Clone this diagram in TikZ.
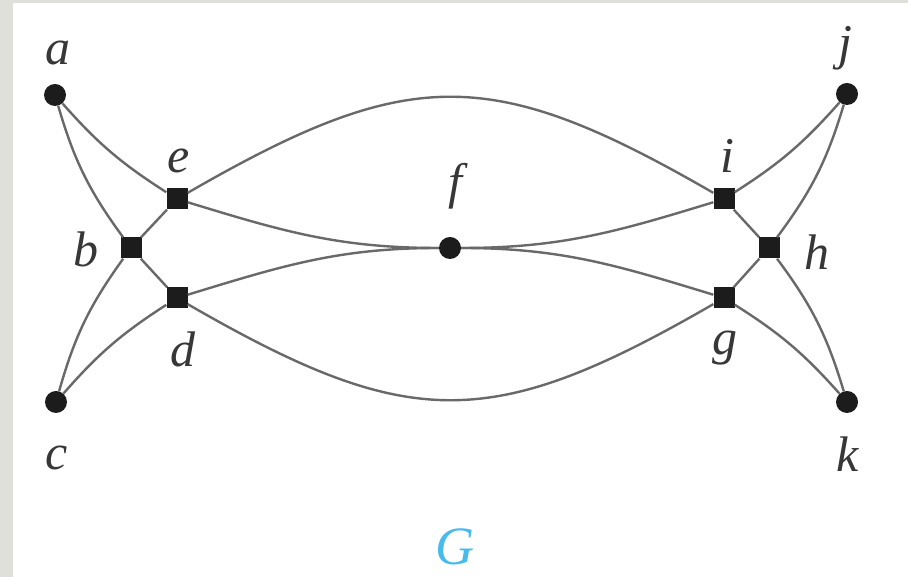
\documentclass[tikz,border=0pt]{standalone}
\usepackage{fontspec}
\setmainfont{Liberation Serif}
\usetikzlibrary{positioning,calc}
\definecolor{bgframe}{RGB}{224,224,219}
\definecolor{vert}{RGB}{28,28,28}
\definecolor{edge}{RGB}{105,105,105}
\definecolor{vname}{RGB}{55,55,55}
\definecolor{gname}{RGB}{72,186,236}
\tikzset{
 vdot/.style={circle, fill=vert, inner sep=0pt, minimum size=22pt},
 vsq/.style={rectangle, fill=vert, inner sep=0pt, minimum size=21pt},
 link/.style={draw=edge, line width=2.4pt},
 lbl/.style={anchor=base, inner sep=0pt, text=vname, font=\fontsize{50}{52}\selectfont\itshape}
}
\begin{document}
\begin{tikzpicture}[x=1pt,y=1pt]

\fill[bgframe] (0,0) rectangle (908,577);
\fill[white] (13,0) rectangle (908,574);
\useasboundingbox (0,0) rectangle (908,577);

% vertices
\node[vdot] (a) at (55,482) {};
\node[vsq] (e) at (177,378) {};
\node[vsq] (b) at (131,329) {};
\node[vsq] (d) at (177,279) {};
\node[vdot] (c) at (56,175) {};
\node[vdot] (f) at (450,329) {};
\node[vsq] (i) at (724,378) {};
\node[vsq] (h) at (769,329) {};
\node[vsq] (g) at (724,279) {};
\node[vdot] (j) at (847,483) {};
\node[vdot] (k) at (847,175) {};

% vertex names
\node[lbl] (la) at (58,512) {a};
\node[lbl] (le) at (179,404) {e};
\node[lbl] (lb) at (86,310) {b};
\node[lbl] (ld) at (183,210) {d};
\node[lbl] (lc) at (57,107) {c};
\node[lbl] (lf) at (455,378) {f};
\node[lbl] (li) at (727,404) {i};
\node[lbl] (lh) at (817,307) {h};
\node[lbl] (lg) at (725,222) {g};
\node[lbl] (lj) at (845,517) {j};
\node[lbl] (lk) at (848,105) {k};
\node[lbl, text=gname, font=\fontsize{54}{56}\selectfont\itshape] (gn) at (455,12) {G};

% edges
\draw[link] (a) to[bend right=10] (b);
\draw[link] (a) to[bend right=8] (e);
\draw[link] (c) to[bend left=10] (b);
\draw[link] (c) to[bend left=8] (d);
\draw[link] (b) -- (e);
\draw[link] (b) -- (d);
\draw[link] (e) to[out=30,in=150,looseness=1.25] (i);
\draw[link] (d) to[out=-30,in=-150,looseness=1.25] (g);
\draw[link] (e) to[out=-17,in=180] (f);
\draw[link] (d) to[out=17,in=180] (f);
\draw[link] (f) to[out=0,in=197] (i);
\draw[link] (f) to[out=0,in=163] (g);
\draw[link] (i) to[bend right=8] (j);
\draw[link] (h) to[bend right=10] (j);
\draw[link] (h) to[bend left=10] (k);
\draw[link] (g) to[bend left=8] (k);
\draw[link] (i) -- (h);
\draw[link] (g) -- (h);

\end{tikzpicture}
\end{document}
